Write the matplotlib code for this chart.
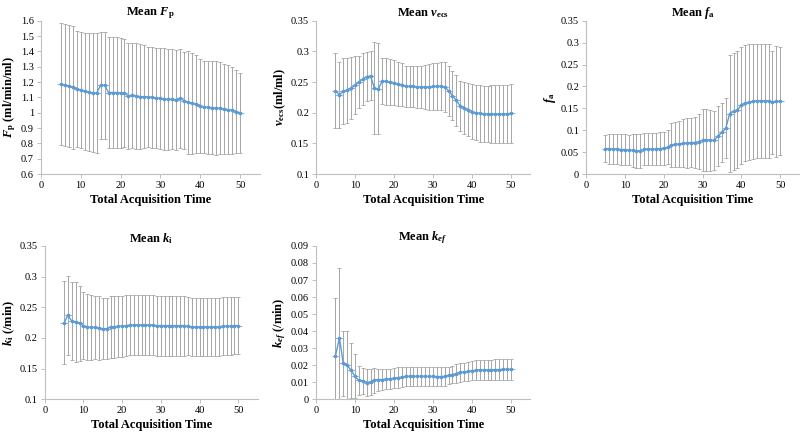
import numpy as np
import matplotlib.pyplot as plt
from matplotlib.ticker import MultipleLocator

plt.rcParams['font.family'] = 'Liberation Serif'
plt.rcParams['mathtext.fontset'] = 'custom'
plt.rcParams['mathtext.rm'] = 'Liberation Serif:bold'
plt.rcParams['mathtext.it'] = 'Liberation Serif:italic:bold'
plt.rcParams['mathtext.bf'] = 'Liberation Serif:bold'

# acquisition times
t = np.arange(5, 51)

# mean Fp and std
fp_mean = [1.185, 1.18, 1.175, 1.165, 1.155, 1.148, 1.14, 1.133, 1.13, 1.128,
           1.178, 1.18, 1.132, 1.132, 1.132, 1.13, 1.128, 1.108, 1.115, 1.11,
           1.105, 1.105, 1.102, 1.1, 1.097, 1.093, 1.09, 1.087, 1.088, 1.083,
           1.093, 1.078, 1.067, 1.062, 1.055, 1.045, 1.038, 1.035, 1.033, 1.03,
           1.03, 1.025, 1.02, 1.015, 1.008, 1.0]
fp_std = [0.398, 0.398, 0.398, 0.40, 0.38, 0.377, 0.38, 0.385, 0.388, 0.39,
          0.352, 0.35, 0.363, 0.363, 0.361, 0.36, 0.352, 0.347, 0.343, 0.345,
          0.343, 0.335, 0.328, 0.328, 0.328, 0.332, 0.33, 0.331, 0.327, 0.327,
          0.322, 0.317, 0.333, 0.328, 0.32, 0.305, 0.302, 0.303, 0.304, 0.305,
          0.30, 0.295, 0.29, 0.285, 0.272, 0.26]

# mean vecs and std
ve_mean = [0.236, 0.229, 0.235, 0.237, 0.24, 0.245, 0.25, 0.255, 0.259, 0.26,
           0.24, 0.239, 0.252, 0.251, 0.25, 0.249, 0.247, 0.246, 0.243, 0.243,
           0.243, 0.242, 0.242, 0.242, 0.242, 0.243, 0.243, 0.243, 0.242, 0.236,
           0.228, 0.22, 0.211, 0.208, 0.205, 0.202, 0.2, 0.199, 0.198, 0.198,
           0.198, 0.198, 0.198, 0.198, 0.198, 0.199]
ve_std = [0.061, 0.054, 0.054, 0.053, 0.051, 0.047, 0.042, 0.042, 0.04, 0.04,
          0.075, 0.074, 0.038, 0.038, 0.038, 0.037, 0.036, 0.035, 0.034, 0.034,
          0.034, 0.034, 0.035, 0.036, 0.037, 0.038, 0.038, 0.039, 0.04, 0.041,
          0.04, 0.042, 0.04, 0.042, 0.043, 0.045, 0.045, 0.046, 0.046, 0.046,
          0.047, 0.047, 0.047, 0.047, 0.047, 0.048]

# mean fa and std
fa_mean = [0.058, 0.058, 0.057, 0.057, 0.056, 0.056, 0.055, 0.054, 0.053, 0.053,
           0.057, 0.057, 0.057, 0.057, 0.058, 0.059, 0.061, 0.066, 0.068, 0.069,
           0.07, 0.071, 0.072, 0.072, 0.074, 0.077, 0.078, 0.077, 0.077, 0.087,
           0.095, 0.105, 0.138, 0.143, 0.147, 0.157, 0.162, 0.164, 0.166, 0.167,
           0.167, 0.167, 0.167, 0.164, 0.166, 0.166]
fa_std = [0.031, 0.034, 0.034, 0.035, 0.035, 0.035, 0.035, 0.038, 0.039, 0.039,
          0.036, 0.037, 0.037, 0.037, 0.037, 0.038, 0.039, 0.05, 0.051, 0.053,
          0.055, 0.057, 0.057, 0.059, 0.063, 0.071, 0.071, 0.069, 0.068, 0.068,
          0.068, 0.068, 0.133, 0.133, 0.133, 0.133, 0.132, 0.132, 0.132, 0.131,
          0.131, 0.131, 0.131, 0.118, 0.127, 0.123]

# mean ki and std
ki_mean = [0.225, 0.237, 0.227, 0.226, 0.224, 0.22, 0.218, 0.217, 0.217, 0.216,
           0.215, 0.215, 0.218, 0.218, 0.219, 0.219, 0.22, 0.221, 0.221, 0.221,
           0.221, 0.221, 0.221, 0.221, 0.22, 0.22, 0.22, 0.22, 0.22, 0.22,
           0.22, 0.22, 0.219, 0.218, 0.218, 0.218, 0.218, 0.218, 0.218, 0.218,
           0.218, 0.219, 0.219, 0.219, 0.22, 0.22]
ki_std = [0.068, 0.0645, 0.0635, 0.066, 0.061, 0.055, 0.054, 0.053, 0.052, 0.052,
          0.05, 0.05, 0.05, 0.05, 0.05, 0.05, 0.05, 0.049, 0.049, 0.049,
          0.049, 0.049, 0.049, 0.049, 0.049, 0.049, 0.049, 0.049, 0.049, 0.049,
          0.049, 0.049, 0.047, 0.047, 0.047, 0.047, 0.047, 0.047, 0.047, 0.047,
          0.047, 0.047, 0.047, 0.047, 0.047, 0.047]

# mean kef and std
ke_mean = [0.0255, 0.036, 0.021, 0.02, 0.017, 0.0135, 0.011, 0.0108, 0.0098, 0.0102,
           0.0112, 0.0115, 0.0115, 0.0118, 0.012, 0.0123, 0.0127, 0.013, 0.0135, 0.0134,
           0.0134, 0.0135, 0.0135, 0.0134, 0.0134, 0.0134, 0.0133, 0.0133, 0.0134, 0.014,
           0.0145, 0.015, 0.0157, 0.016, 0.0163, 0.0167, 0.017, 0.0172, 0.0172, 0.0173,
           0.0173, 0.0174, 0.0174, 0.0175, 0.0175, 0.0175]
ke_std = [0.034, 0.041, 0.019, 0.02, 0.016, 0.013, 0.0085, 0.0077, 0.0077, 0.0078,
          0.0073, 0.0065, 0.006, 0.006, 0.006, 0.006, 0.006, 0.0058, 0.0057, 0.0057,
          0.0057, 0.0057, 0.0057, 0.0057, 0.0057, 0.0057, 0.0057, 0.0057, 0.0055, 0.005,
          0.0052, 0.0055, 0.0055, 0.0055, 0.0056, 0.0057, 0.006, 0.006, 0.006, 0.006,
          0.006, 0.006, 0.006, 0.006, 0.006, 0.006]

panels = [
    (fp_mean, fp_std, r'Mean $\mathit{F}_\mathrm{p}$', r'$\mathit{F}_\mathrm{p}$ (ml/min/ml)',
     (0.6, 1.6), 0.1, [0.051, 0.598, 0.274, 0.354]),
    (ve_mean, ve_std, r'Mean $\mathit{v}_\mathrm{ecs}$', r'$\mathit{v}_\mathrm{ecs}$(ml/ml)',
     (0.1, 0.35), 0.05, [0.395, 0.598, 0.268, 0.354]),
    (fa_mean, fa_std, r'Mean $\mathit{f}_\mathrm{a}$', r'$\mathit{f}_\mathrm{a}$',
     (0, 0.35), 0.05, [0.7325, 0.598, 0.267, 0.354]),
    (ki_mean, ki_std, r'Mean $\mathit{k}_\mathrm{i}$', r'$\mathit{k}_\mathrm{i}$ (/min)',
     (0.1, 0.35), 0.05, [0.056, 0.078, 0.266, 0.354]),
    (ke_mean, ke_std, r'Mean $\mathit{k}_{ef}$', r'$\mathit{k}_{ef}$ (/min)',
     (0, 0.09), 0.01, [0.395, 0.078, 0.268, 0.354]),
]

fig = plt.figure(figsize=(8, 4.33), dpi=100)

for mean, std, title, ylab, ylim, step, pos in panels:
    ax = fig.add_axes(pos)
    # grey vertical error bars
    ax.errorbar(t, mean, yerr=std, fmt='none', ecolor='#a6a6a6',
                elinewidth=0.7, capsize=1.2, capthick=0.6, zorder=1)
    # blue horizontal bars
    ax.errorbar(t, mean, xerr=1, fmt='none', ecolor='#8db4e2',
                elinewidth=0.8, capsize=0, zorder=2)
    ax.plot(t, mean, color='#5b9bd5', lw=1.0, marker='o', ms=1.6, zorder=3)
    ax.set_xlim(0, 55)
    ax.set_ylim(*ylim)
    ax.xaxis.set_major_locator(MultipleLocator(10))
    ax.yaxis.set_major_locator(MultipleLocator(step))
    ax.yaxis.set_major_formatter(plt.FuncFormatter(lambda v, p: '%g' % round(v, 4)))
    for s in ['top', 'right']:
        ax.spines[s].set_visible(False)
    for s in ['left', 'bottom']:
        ax.spines[s].set_color('#bfbfbf')
        ax.spines[s].set_linewidth(0.8)
    ax.tick_params(labelsize=7.5, color='#bfbfbf', length=3, width=0.7, pad=2)
    ax.set_title(title, fontsize=9, fontweight='bold', pad=3)
    ax.set_xlabel('Total Acquisition Time', fontsize=9, fontweight='bold', labelpad=3)
    ax.set_ylabel(ylab, fontsize=9, fontweight='bold', labelpad=2)

fig.savefig('out.png', dpi=100)
